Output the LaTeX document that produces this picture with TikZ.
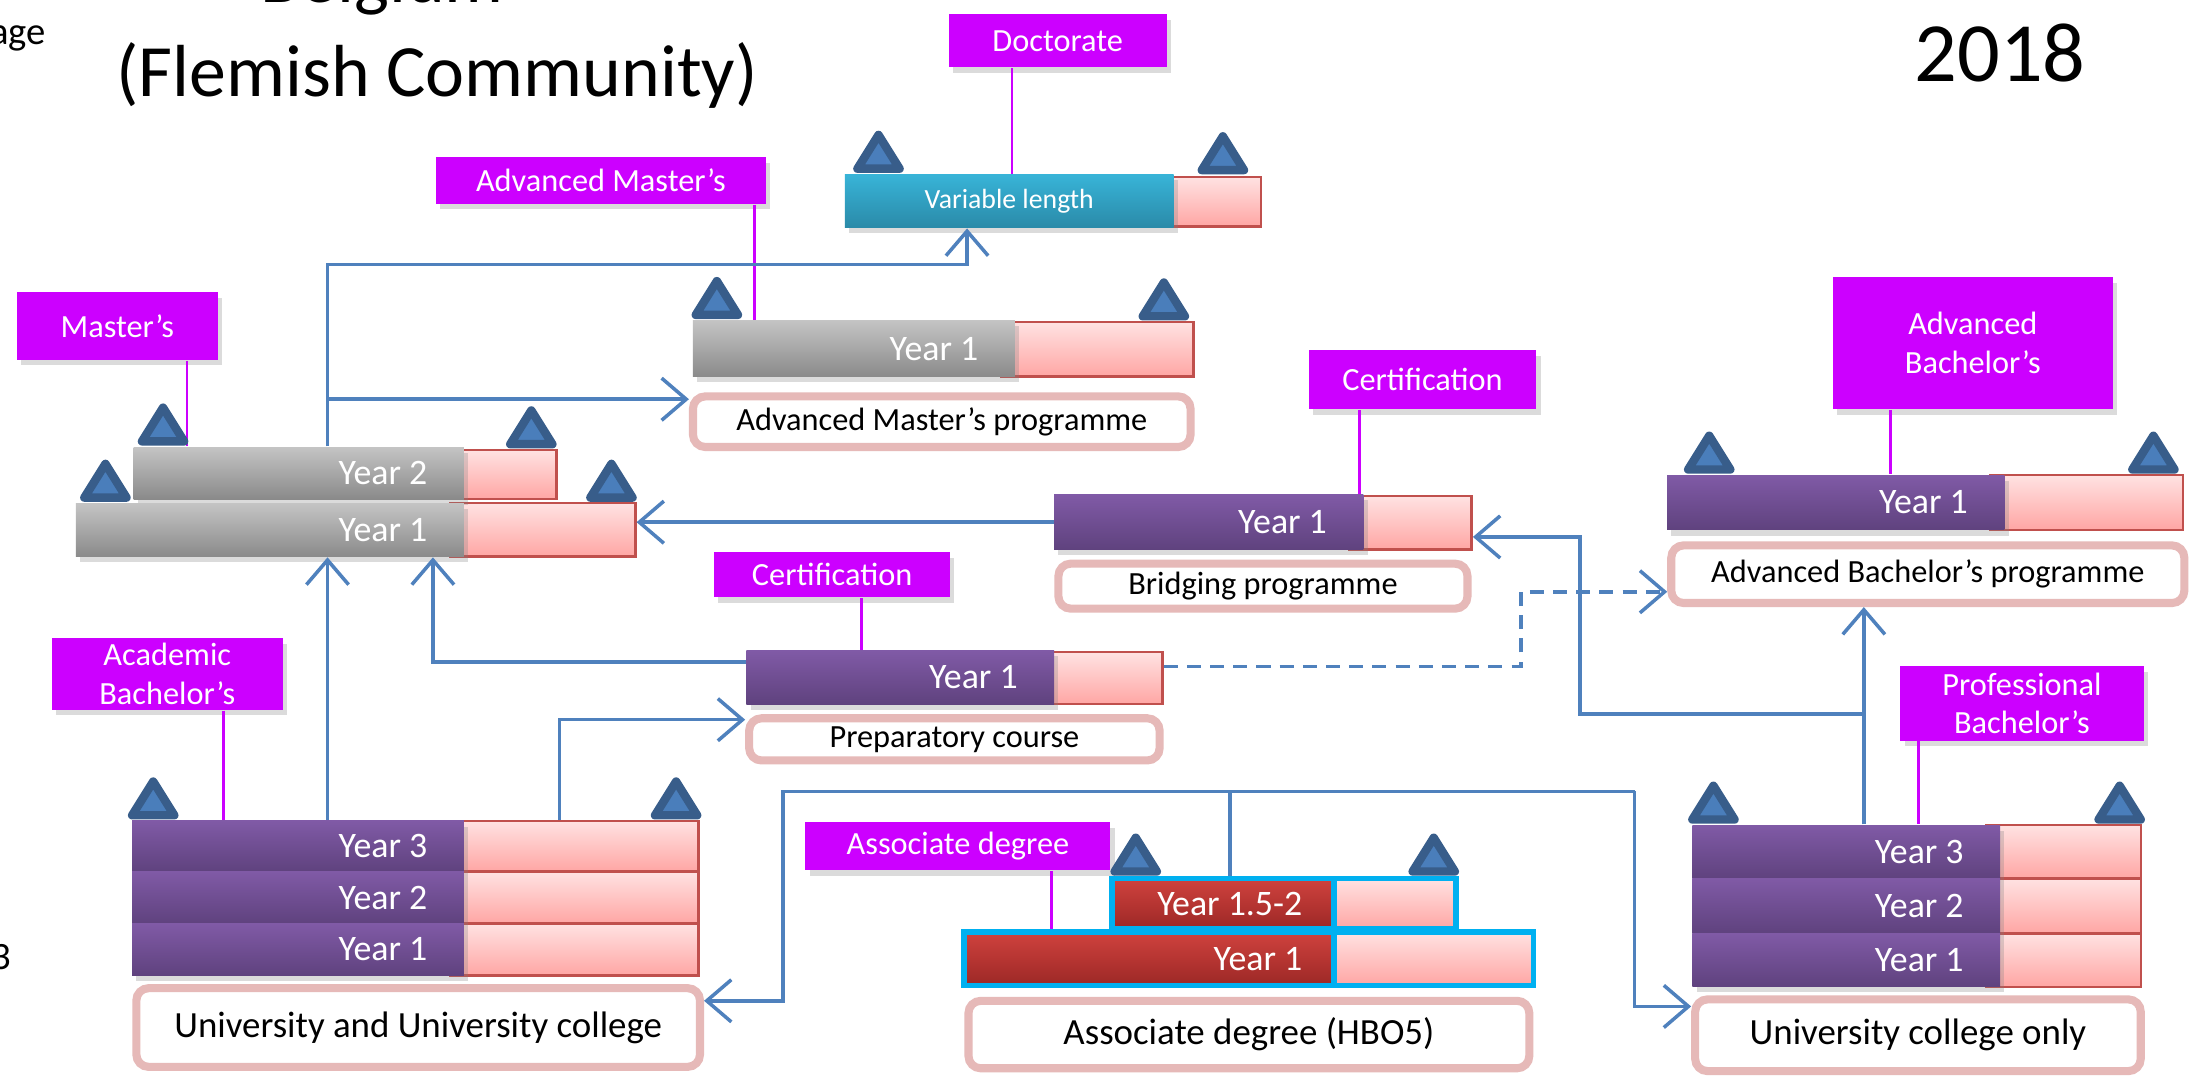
\documentclass[tikz,border=0pt]{standalone}
\usepackage{fontspec}
\setmainfont{Carlito}
\usetikzlibrary{arrows.meta,fit,shadows,calc}

\definecolor{magc}{RGB}{204,0,255}
\definecolor{connblue}{RGB}{79,129,189}
\definecolor{tridark}{RGB}{56,93,138}
\definecolor{trifill}{RGB}{74,126,187}
\definecolor{progborder}{RGB}{230,185,184}
\definecolor{pinkborder}{RGB}{192,80,77}
\definecolor{pinktop}{RGB}{255,226,226}
\definecolor{pinkbot}{RGB}{255,166,164}
\definecolor{purtop}{RGB}{128,90,166}
\definecolor{purbot}{RGB}{95,66,126}
\definecolor{graytop}{RGB}{196,196,196}
\definecolor{graybot}{RGB}{138,138,138}
\definecolor{tealtop}{RGB}{56,180,216}
\definecolor{tealbot}{RGB}{42,138,168}
\definecolor{redtop}{RGB}{208,66,62}
\definecolor{redbot}{RGB}{156,40,38}
\definecolor{cyanb}{RGB}{0,176,240}

\tikzset{
  base/.style={inner sep=0pt},
  shad/.style={drop shadow={opacity=0.28, shadow xshift=1.2pt, shadow yshift=-1.6pt}},
  labtxt/.style={base, text=white, align=center, font=\fontsize{9.2}{11}\selectfont},
  maglab/.style={base, shad, fill=magc},
  pinkbox/.style={base, draw=pinkborder, line width=0.7pt, top color=pinktop, bottom color=pinkbot},
  purbar/.style={base, shad, top color=purtop, bottom color=purbot},
  graybar/.style={base, shad, top color=graytop, bottom color=graybot},
  tealbar/.style={base, shad, top color=tealtop, bottom color=tealbot},
  vartxt/.style={base, text=white, font=\fontsize{7.9}{9}\selectfont},
  redbar/.style={base, top color=redtop, bottom color=redbot, draw=cyanb, line width=1.6pt},
  redpink/.style={base, top color=pinktop, bottom color=pinkbot, draw=cyanb, line width=1.6pt},
  yeartxt/.style={base, text=white, anchor=east, font=\fontsize{10.2}{12}\selectfont},
  prog/.style={base, draw=progborder, line width=2.3pt, fill=white, rounded corners=3.5pt},
  progtxt/.style={base, font=\fontsize{9.2}{11}\selectfont},
  bigprogtxt/.style={base, font=\fontsize{10.5}{12}\selectfont},
  labline/.style={draw=magc, line width=0.8pt},
  connline/.style={draw=connblue, line width=1pt},
  conn/.style={connline, -{Straight Barb[length=7pt,width=12pt]}},
  dconn/.style={conn, dash pattern=on 4pt off 2.6pt},
  tri/.pic={\draw[line width=2.4pt, line join=round, draw=tridark, fill=trifill] (-15,-4) -- (15,-4) -- (0,-28) -- cycle;}
}

\begin{document}
\begin{tikzpicture}[x=0.4pt,y=-0.4pt]
\useasboundingbox (0,0) rectangle (1568,769);
\clip (0,0) rectangle (1568,769);
\fill[white] (0,0) rectangle (1568,769);

% ---- titles and fragments
\node[base, font=\fontsize{21}{25}\selectfont, anchor=base] (belg) at (272,2) {Belgium};
\node[base, font=\fontsize{21}{25}\selectfont] (title) at (311,54) {(Flemish Community)};
\node[base, font=\fontsize{24}{28}\selectfont] (year) at (1423,38) {2018};
\node[base, font=\fontsize{11}{13}\selectfont, anchor=base east] (frag1) at (33,32) {age};
\node[base, font=\fontsize{11}{13}\selectfont] (frag2) at (1,681) {3};

% ---- pink boxes (behind bars)
\node[pinkbox, fit={(825,126) (897,161)}] (varp) {};
\node[pinkbox, fit={(712,229) (849,268)}] (am1p) {};
\node[pinkbox, fit={(320,320) (396,355)}] (m2p) {};
\node[pinkbox, fit={(320,358) (452,396)}] (m1p) {};
\node[pinkbox, fit={(960,353) (1047,391)}] (br1p) {};
\node[pinkbox, fit={(1416,338) (1553,377)}] (ab1p) {};
\node[pinkbox, fit={(740,464) (827,501)}] (pc1p) {};
\node[pinkbox, fit={(320,584) (497,620)}] (a3p) {};
\node[pinkbox, fit={(320,620) (497,657)}] (a2p) {};
\node[pinkbox, fit={(320,657) (497,694)}] (a1p) {};
\node[pinkbox, fit={(1413,587) (1523,625)}] (p3p) {};
\node[pinkbox, fit={(1413,625) (1523,664)}] (p2p) {};
\node[pinkbox, fit={(1413,664) (1523,702)}] (p1p) {};

% ---- bars
\node[tealbar, fit={(601,124) (835,162)}, label={[vartxt]center:Variable length}] (var) {};
\node[graybar, fit={(493,228) (722,268)}] (am1) {};
\node[graybar, fit={(95,318) (330,355)}] (m2) {};
\node[graybar, fit={(54,358) (330,396)}] (m1) {};
\node[purbar, fit={(750,352) (970,391)}] (br1) {};
\node[purbar, fit={(1186,338) (1426,377)}] (ab1) {};
\node[purbar, fit={(531,463) (750,501)}] (pc1) {};
\node[purbar, fit={(94,584) (330,620)}] (a3) {};
\node[purbar, fit={(94,620) (330,657)}] (a2) {};
\node[purbar, fit={(94,657) (330,694)}] (a1) {};
\node[purbar, fit={(1204,587) (1423,625)}] (p3) {};
\node[purbar, fit={(1204,625) (1423,664)}] (p2) {};
\node[purbar, fit={(1204,664) (1423,702)}] (p1) {};
\node[redpink, fit={(949,625) (1036,661)}] (ad2p) {};
\node[redbar, fit={(791,625) (949,661)}] (ad2) {};
\node[redpink, fit={(949,663) (1091,701)}] (ad1p) {};
\node[redbar, fit={(686,663) (949,701)}] (ad1) {};

% ---- year texts
\node[yeartxt] (am1t) at ($(am1.east)+(-26,0)$) {Year 1};
\node[yeartxt] (m2t) at ($(m2.east)+(-26,0)$) {Year 2};
\node[yeartxt] (m1t) at ($(m1.east)+(-26,0)$) {Year 1};
\node[yeartxt] (br1t) at ($(br1.east)+(-26,0)$) {Year 1};
\node[yeartxt] (ab1t) at ($(ab1.east)+(-26,0)$) {Year 1};
\node[yeartxt] (pc1t) at ($(pc1.east)+(-26,0)$) {Year 1};
\node[yeartxt] (a3t) at ($(a3.east)+(-26,0)$) {Year 3};
\node[yeartxt] (a2t) at ($(a2.east)+(-26,0)$) {Year 2};
\node[yeartxt] (a1t) at ($(a1.east)+(-26,0)$) {Year 1};
\node[yeartxt] (p3t) at ($(p3.east)+(-26,0)$) {Year 3};
\node[yeartxt] (p2t) at ($(p2.east)+(-26,0)$) {Year 2};
\node[yeartxt] (p1t) at ($(p1.east)+(-26,0)$) {Year 1};
\node[yeartxt] (ad2t) at ($(ad2.east)+(-24,0)$) {Year 1.5-2};
\node[yeartxt] (ad1t) at ($(ad1.east)+(-24,0)$) {Year 1};

% ---- programme boxes
\node[prog, fit={(493,282) (847,318)}, label={[progtxt]center:Advanced Master’s programme}] (amprog) {};
\node[prog, fit={(753,401) (1044,433)}, label={[progtxt]center:Bridging programme}] (brprog) {};
\node[prog, fit={(1189,388) (1554,429)}, label={[progtxt]center:Advanced Bachelor’s programme}] (abprog) {};
\node[prog, fit={(533,511) (825,541)}, label={[progtxt]center:Preparatory course}] (pcprog) {};
\node[prog, fit={(97,703) (498,759)}, label={[bigprogtxt]center:University and University college}] (uprog) {};
\node[prog, fit={(689,712) (1088,760)}, label={[bigprogtxt]center:Associate degree (HBO5)}] (adprog) {};
\node[prog, fit={(1206,711) (1523,762)}, label={[bigprogtxt]center:University college only}] (ucprog) {};

% ---- magenta labels
\node[maglab, fit={(675,10) (830,48)}, label={[labtxt]center:Doctorate}] (doc) {};
\node[maglab, fit={(310,112) (545,145)}, label={[labtxt]center:Advanced Master’s}] (amlab) {};
\node[maglab, fit={(12,208) (155,256)}, label={[labtxt]center:Master’s}] (mlab) {};
\node[maglab, fit={(931,249) (1093,291)}, label={[labtxt]center:Certification}] (cert1) {};
\node[maglab, fit={(1304,197) (1503,291)}, label={[labtxt]center:{Advanced\\Bachelor’s}}] (ablab) {};
\node[maglab, fit={(508,393) (676,425)}, label={[labtxt]center:Certification}] (cert2) {};
\node[maglab, fit={(37,454) (201,505)}, label={[labtxt]center:{Academic\\Bachelor’s}}] (acalab) {};
\node[maglab, fit={(573,585) (790,619)}, label={[labtxt]center:Associate degree}] (adlab) {};
\node[maglab, fit={(1352,474) (1525,527)}, label={[labtxt]center:{Professional\\Bachelor’s}}] (pblab) {};

% ---- label lines
\draw[labline] (720,0 |- doc.south) -- (720,0 |- var.north);
\draw[labline] (537,0 |- amlab.south) -- (537,0 |- am1.north);
\draw[labline] (133,0 |- mlab.south) -- (133,0 |- m2.north);
\draw[labline] (967,0 |- cert1.south) -- (967,0 |- br1.north);
\draw[labline] (1345,0 |- ablab.south) -- (1345,0 |- ab1.north);
\draw[labline] (613,0 |- cert2.south) -- (613,0 |- pc1.north);
\draw[labline] (159,0 |- acalab.south) -- (159,0 |- a3.north);
\draw[labline] (748,0 |- adlab.south) -- (748,0 |- ad1.north);
\draw[labline] (1365,0 |- pblab.south) -- (1365,0 |- p3.north);

% ---- triangles
\foreach \p in {(625,124),(870,125),(510,228),(828,229),(116,318),(378,320),(75,358),(435,358),(1216,338),(1532,338),(109,584),(481,584),(808,624),(1020,624),(1219,587),(1508,587)}
  \pic at \p {tri};

% ---- connectors
\coordinate (j1) at (233,188);
\draw[conn] (j1 |- m2.north) -- (j1) -| (688,0 |- var.south);
\draw[conn] (233,284) -- (amprog.west |- 0,284);
\draw[conn] (br1.west) -- (br1.west -| m1p.east);
\draw[conn] (233,0 |- a3.north) -- (233,0 |- m1.south);
\draw[conn] (pc1.west |- 0,471) -| (308,0 |- m1.south);
\draw[conn] (398,0 |- a3.north) |- (pcprog.west |- 0,512);
\draw[dconn] (pc1p.east |- 0,474) -| (1082,421) -- (abprog.west |- 0,421);
\draw[conn] (1326,0 |- p3.north) -- (1326,0 |- abprog.south);
\draw[conn] (1326,508) -| (1124,382) -- (br1p.east |- 0,382);
\draw[connline] (875,0 |- ad2.north) -- (875,563);
\draw[conn] (1163,563) -- (557,563) |- (uprog.east |- 0,712);
\draw[conn] (1163,563) |- (ucprog.west |- 0,716);
\end{tikzpicture}
\end{document}
